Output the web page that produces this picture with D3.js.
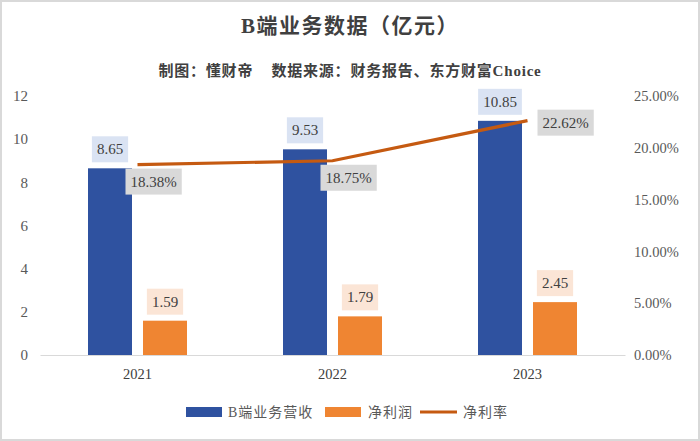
<!DOCTYPE html>
<html><head><meta charset="utf-8">
<script src="https://cdn.jsdelivr.net/npm/d3@7"></script>
<style>
html,body{margin:0;padding:0;background:#fff;}
svg{display:block;}
</style></head>
<body>
<svg id="c" width="700" height="441"></svg>
<script>
const categories = ["2021", "2022", "2023"];
const revenue = [8.65, 9.53, 10.85];
const profit = [1.59, 1.79, 2.45];
const margin = [18.38, 18.75, 22.62];
const leftTicks = [0, 2, 4, 6, 8, 10, 12];
const rightTicks = [0, 5, 10, 15, 20, 25];
const seriesNames = ["B端业务营收", "净利润", "净利率"];
const titleText = "B端业务数据（亿元）";
const subtitleText = "制图：懂财帝    数据来源：财务报告、东方财富Choice";

const W = 700, H = 441;
const svg = d3.select("#c");
const serif = "'Liberation Serif','DejaVu Serif',serif";
const cjk = "'Liberation Serif','Noto Sans CJK SC',serif";

svg.append("rect").attr("x", 1).attr("y", 1).attr("width", W - 2).attr("height", H - 2)
  .attr("fill", "#fff").attr("stroke", "#d9d9d9").attr("stroke-width", 2);

svg.append("text").attr("x", 350).attr("y", 33).attr("text-anchor", "middle")
  .attr("font-family", cjk).attr("font-weight", "bold").attr("font-size", 21).attr("letter-spacing", 1.5)
  .attr("fill", "#404040").text(titleText);
svg.append("text").attr("x", 350).attr("y", 76).attr("text-anchor", "middle")
  .style("white-space", "pre")
  .attr("font-family", cjk).attr("font-weight", "bold").attr("font-size", 15).attr("letter-spacing", 0.8)
  .attr("fill", "#404040").text(subtitleText);

const x0 = 40, x1 = 625, yTop = 96, yBot = 355;
const x = d3.scaleBand().domain(categories).range([x0, x1]);
const yL = d3.scaleLinear().domain([0, 12]).range([yBot, yTop]);
const yR = d3.scaleLinear().domain([0, 25]).range([yBot, yTop]);

// left axis
const gl = svg.append("g").attr("transform", `translate(${x0},0)`)
  .call(d3.axisLeft(yL).tickValues(leftTicks).tickSize(0).tickPadding(12).tickFormat(d3.format("d")));
gl.select(".domain").remove();
gl.attr("font-family", serif);
gl.selectAll("text").attr("font-size", 15).attr("fill", "#595959");

// right axis
const gr = svg.append("g").attr("transform", `translate(${x1},0)`)
  .call(d3.axisRight(yR).tickValues(rightTicks).tickSize(0).tickPadding(9).tickFormat(d => d.toFixed(2) + "%"));
gr.select(".domain").remove();
gr.attr("font-family", serif);
gr.selectAll("text").attr("font-size", 14.5).attr("fill", "#595959");

// bottom axis
const gb = svg.append("g").attr("transform", `translate(0,${yBot})`)
  .call(d3.axisBottom(x).tickSize(0).tickPadding(14));
gb.select(".domain").attr("stroke", "#d9d9d9").attr("stroke-width", 1.2);
gb.attr("font-family", serif);
gb.selectAll("text").attr("font-size", 14.5).attr("fill", "#404040");

const bw = 44, off = 27.5;
const cx = d => x(d) + x.bandwidth() / 2;

function label(tx, ty, txt, bg, anchor) {
  const g = svg.append("g");
  const t = g.append("text").attr("x", tx).attr("y", ty).attr("text-anchor", anchor || "middle")
    .attr("dominant-baseline", "central")
    .attr("font-family", serif).attr("font-size", 15).attr("fill", "#404040").text(txt);
  const b = t.node().getBBox();
  g.insert("rect", "text").attr("x", b.x - 5).attr("y", ty - 13).attr("width", b.width + 10).attr("height", 26)
    .attr("fill", bg);
}

// revenue bars
svg.append("g").selectAll("rect").data(revenue).join("rect")
  .attr("x", (d, i) => cx(categories[i]) - off - bw / 2).attr("width", bw)
  .attr("y", d => yL(d)).attr("height", d => yBot - yL(d)).attr("fill", "#2f52a0");
// profit bars
svg.append("g").selectAll("rect").data(profit).join("rect")
  .attr("x", (d, i) => cx(categories[i]) + off - bw / 2).attr("width", bw)
  .attr("y", d => yL(d)).attr("height", d => yBot - yL(d)).attr("fill", "#ef8532");

revenue.forEach((d, i) => label(cx(categories[i]) - off, yL(d) - 19, d.toFixed(2), "#dae3f3"));
profit.forEach((d, i) => label(cx(categories[i]) + off, yL(d) - 19, d.toFixed(2), "#fbe5d6"));

// margin line
const line = d3.line().x((d, i) => cx(categories[i])).y(d => yR(d));
svg.append("path").datum(margin).attr("d", line).attr("fill", "none")
  .attr("stroke", "#c55a11").attr("stroke-width", 3.2).attr("stroke-linecap", "butt");

margin.forEach((d, i) => {
  const px = cx(categories[i]), py = yR(d);
  const last = i === margin.length - 1;
  label(px + (last ? 15 : -7), py + (last ? 2 : 17), d.toFixed(2) + "%", "#d9d9d9", "start");
});

// legend
const ly = 412;
const lg = svg.append("g").attr("font-family", cjk).attr("font-size", 14).attr("fill", "#595959").attr("letter-spacing", 1);
lg.append("rect").attr("x", 186).attr("y", ly - 5).attr("width", 36).attr("height", 10).attr("fill", "#2f52a0");
lg.append("text").attr("x", 228).attr("y", ly).attr("dominant-baseline", "central").text(seriesNames[0]);
lg.append("rect").attr("x", 325).attr("y", ly - 5).attr("width", 36).attr("height", 10).attr("fill", "#ef8532");
lg.append("text").attr("x", 368).attr("y", ly).attr("dominant-baseline", "central").text(seriesNames[1]);
lg.append("line").attr("x1", 420).attr("x2", 457).attr("y1", ly).attr("y2", ly)
  .attr("stroke", "#c55a11").attr("stroke-width", 3.2);
lg.append("text").attr("x", 463).attr("y", ly).attr("dominant-baseline", "central").text(seriesNames[2]);
</script>
</body></html>
